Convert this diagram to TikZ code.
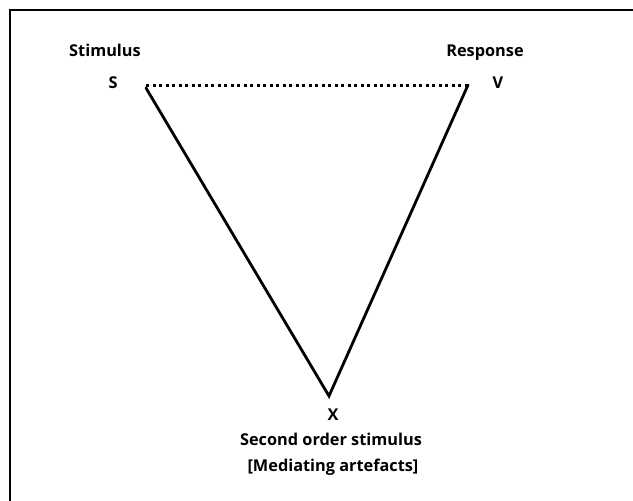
\documentclass[tikz,border=0pt]{standalone}
\usepackage{fontspec}
\setmainfont{Open Sans}
\begin{document}
\begin{tikzpicture}[x=1pt,y=-1pt,
  lbl/.style={font=\fontsize{16.3}{19}\selectfont\bfseries, inner sep=0pt, anchor=base},
  edge/.style={line width=2.8pt, line cap=round},
  dots/.style={line width=3pt, dash pattern=on 3.3pt off 3.2pt}]
  \useasboundingbox (0,0) rectangle (633,501);
  % outer frame: only top and left edges are within the page
  \draw[line width=2.4pt] (10,501) -- (10,10) -- (633,10);

  % vertices
  \coordinate (s) at (146,88);
  \coordinate (d) at (146,85);
  \coordinate (e) at (467,85);
  \coordinate (v) at (468,85);
  \coordinate (x) at (329,396);

  \node[lbl] (slab) at (113,88.3) {S};
  \node[lbl] (vlab) at (498,88.3) {V};
  \node[lbl] (xlab) at (333,420) {X};
  \node[lbl] (stim) at (105,56.8) {Stimulus};
  \node[lbl] (resp) at (485,56.8) {Response};
  \node[lbl] (sec) at (331,445) {Second order stimulus};
  \node[lbl] (med) at (333,471) {[Mediating artefacts]};

  \draw[dots] (d) -- (e);
  \draw[edge] (s) -- (x) -- (v);
\end{tikzpicture}
\end{document}
